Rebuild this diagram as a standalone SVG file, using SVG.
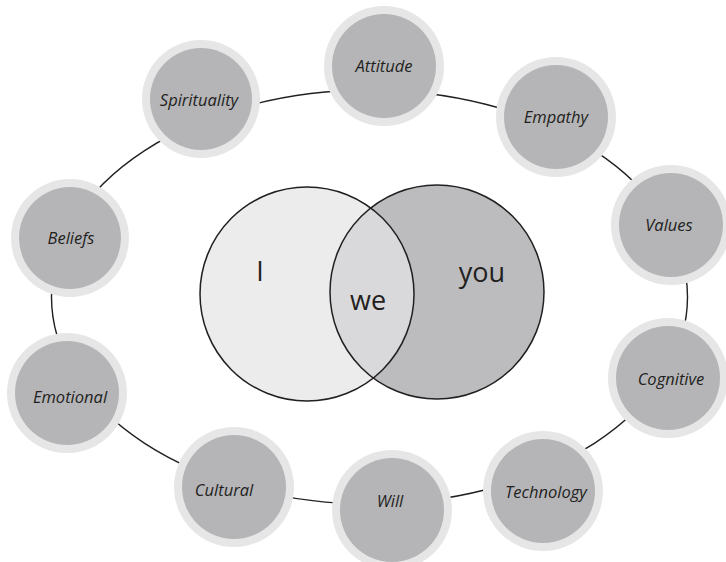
<svg xmlns="http://www.w3.org/2000/svg" width="726" height="562" viewBox="0 0 726 562">
  <defs>
    <style>
      .ring { fill: #e6e6e7; }
      .core { fill: #b5b5b8; }
      .lbl { font-family: "Open Sans", "Liberation Sans", sans-serif; font-style: italic; font-size: 16.5px; fill: #231f20; text-anchor: middle; }
      .venn-txt { font-family: "Open Sans", "Liberation Sans", sans-serif; font-size: 27px; fill: #231f20; text-anchor: middle; }
      .orbit { fill: none; stroke: #231f20; stroke-width: 1.4; }
      .venn-line { fill: none; stroke: #231f20; stroke-width: 1.5; }
    </style>
    <clipPath id="clipLeft">
      <circle cx="307" cy="294" r="107"/>
    </clipPath>
  </defs>

  <rect width="726" height="562" fill="#ffffff"/>

  <!-- orbit line linking the outer nodes -->
  <g id="connectors">
    <ellipse class="orbit" cx="369.5" cy="297" rx="318" ry="207"/>
  </g>

  <!-- central Venn diagram -->
  <g id="venn">
    <circle cx="437" cy="292" r="107" fill="#bcbcbf"/>
    <circle cx="307" cy="294" r="107" fill="#ececed"/>
    <circle cx="437" cy="292" r="107" fill="#d9d9db" clip-path="url(#clipLeft)"/>
    <circle class="venn-line" cx="307" cy="294" r="107"/>
    <circle class="venn-line" cx="437" cy="292" r="107"/>
    <text class="venn-txt" x="260" y="281">I</text>
    <text class="venn-txt" x="368" y="310">we</text>
    <text class="venn-txt" x="482" y="282">you</text>
  </g>

  <g id="attitude">
    <circle class="ring" cx="384" cy="66" r="60"/>
    <circle class="core" cx="384" cy="66" r="52"/>
    <text class="lbl" x="384" y="72">Attitude</text>
  </g>
  <g id="empathy">
    <circle class="ring" cx="556" cy="117" r="60"/>
    <circle class="core" cx="556" cy="117" r="52"/>
    <text class="lbl" x="556" y="123">Empathy</text>
  </g>
  <g id="values">
    <circle class="ring" cx="671" cy="225" r="60"/>
    <circle class="core" cx="671" cy="225" r="52"/>
    <text class="lbl" x="669" y="231">Values</text>
  </g>
  <g id="cognitive">
    <circle class="ring" cx="668" cy="378" r="60"/>
    <circle class="core" cx="668" cy="378" r="52"/>
    <text class="lbl" x="671" y="385">Cognitive</text>
  </g>
  <g id="technology">
    <circle class="ring" cx="543" cy="491" r="60"/>
    <circle class="core" cx="543" cy="491" r="52"/>
    <text class="lbl" x="546" y="498">Technology</text>
  </g>
  <g id="will">
    <circle class="ring" cx="392" cy="510" r="60"/>
    <circle class="core" cx="392" cy="510" r="52"/>
    <text class="lbl" x="390" y="507">Will</text>
  </g>
  <g id="cultural">
    <circle class="ring" cx="234" cy="487" r="60"/>
    <circle class="core" cx="234" cy="487" r="52"/>
    <text class="lbl" x="224" y="496">Cultural</text>
  </g>
  <g id="emotional">
    <circle class="ring" cx="67" cy="393" r="60"/>
    <circle class="core" cx="67" cy="393" r="52"/>
    <text class="lbl" x="70" y="403">Emotional</text>
  </g>
  <g id="beliefs">
    <circle class="ring" cx="70" cy="238" r="59"/>
    <circle class="core" cx="70" cy="238" r="51"/>
    <text class="lbl" x="71" y="244">Beliefs</text>
  </g>
  <g id="spirituality">
    <circle class="ring" cx="201" cy="99" r="59"/>
    <circle class="core" cx="201" cy="99" r="51"/>
    <text class="lbl" x="199" y="106">Spirituality</text>
  </g>
</svg>
